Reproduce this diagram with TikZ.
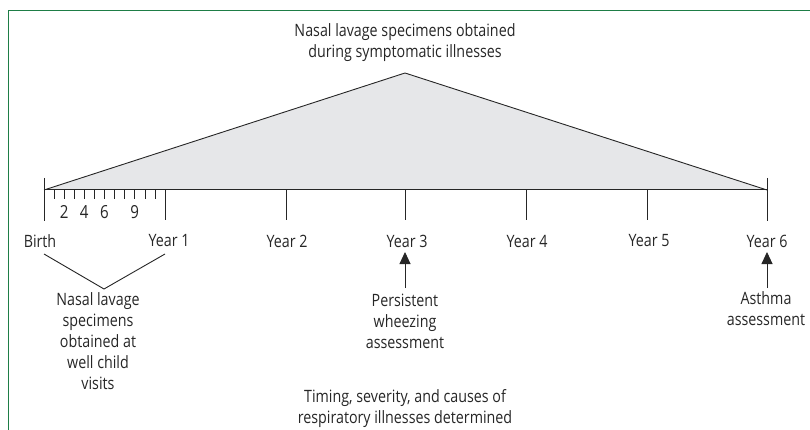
\documentclass[tikz,border=0pt]{standalone}
\usepackage{fontspec}
\setmainfont[FakeStretch=0.84]{Open Sans}
\usetikzlibrary{arrows.meta}
\definecolor{framegreen}{RGB}{30,125,70}
\definecolor{trifill}{RGB}{230,231,233}
\tikzset{
  lbl/.style={font=\fontsize{17}{21}\selectfont, text=black!85, inner sep=0pt, align=center},
  axisline/.style={line width=1pt, black!85},
  tick/.style={line width=0.9pt, black!85},
  mtick/.style={line width=0.6pt, black!85},
  up/.style={line width=0.9pt, black!85, -{Triangle[length=12pt,width=11pt]}},
}
\begin{document}
\begin{tikzpicture}[x=1pt,y=-1pt]
\useasboundingbox (0,0) rectangle (810,430);
% frame
\draw[framegreen, line width=1.2pt] (8.5,440) -- (8.5,10.5) -- (820,10.5);
% triangle
\coordinate (B) at (44,190);
\coordinate (Y6) at (767,190);
\coordinate (apex) at (405,73);
\filldraw[fill=trifill, draw=black!85, line width=0.9pt] (B) -- (apex) -- (Y6);
\node[lbl, anchor=center] (top) at (405,43) {Nasal lavage specimens obtained\\during symptomatic illnesses};
% axis
\draw[axisline] (B) -- (Y6);
\draw[tick] (44,178) -- (44,221);
\draw[tick] (767,178) -- (767,221);
\foreach \x in {165,286,405,526,647} \draw[tick] (\x,190) -- (\x,220);
\foreach \m in {1,...,11} \draw[mtick] ({44+\m*10.08},190) -- ({44+\m*10.08},199);
\foreach \m in {2,4,6,9} \node[lbl, font=\fontsize{18}{18}\selectfont] at ({44+\m*10.08},212) {\m};
% year labels
\node[lbl] (birth) at (40,241) {Birth};
\node[lbl] (y1) at (169,241) {Year 1};
\node[lbl] (y2) at (287,241) {Year 2};
\node[lbl] (y3) at (407,241) {Year 3};
\node[lbl] (y4) at (527,241) {Year 4};
\node[lbl] (y5) at (649,241) {Year 5};
\node[lbl] (y6) at (767,241) {Year 6};
% V bracket
\coordinate (vl) at (44,254);
\coordinate (vr) at (165,254);
\coordinate (vb) at (104,289);
\draw[tick] (vl) -- (vb) -- (vr);
\node[lbl, anchor=north] (well) at (98,292) {Nasal lavage\\specimens\\obtained at\\well child\\visits};
% arrows
\node[lbl, anchor=north] (pw) at (405,294) {Persistent\\wheezing\\assessment};
\node[lbl, anchor=north] (asth) at (766,291) {Asthma\\assessment};
\coordinate (a3) at (405,252);
\coordinate (a6) at (767,252);
\draw[up] (405,288) -- (a3);
\draw[up] (767,288) -- (a6);
% bottom
\node[lbl] (timing) at (405,409) {Timing, severity, and causes of\\respiratory illnesses determined};
\end{tikzpicture}
\end{document}
